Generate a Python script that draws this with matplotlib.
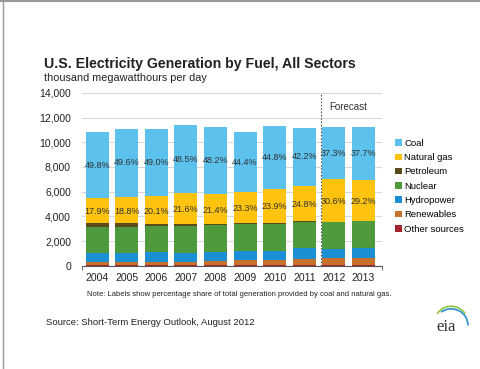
import numpy as np
import matplotlib.pyplot as plt
from matplotlib.lines import Line2D
from matplotlib.patches import Arc

plt.rcParams['font.family'] = ['Liberation Sans', 'DejaVu Sans']

years = ['2004', '2005', '2006', '2007', '2008', '2009', '2010', '2011', '2012', '2013']

# thousand MWh per day
coal = [5.42, 5.54, 5.47, 5.55, 5.46, 4.83, 5.11, 4.76, 4.19, 4.26]
natural_gas = [1.95, 2.10, 2.24, 2.47, 2.42, 2.53, 2.72, 2.80, 3.44, 3.30]
petroleum = [0.33, 0.33, 0.17, 0.18, 0.13, 0.10, 0.10, 0.08, 0.06, 0.06]
nuclear = [2.16, 2.12, 2.15, 2.20, 2.19, 2.18, 2.21, 2.13, 2.15, 2.20]
hydropower = [0.73, 0.74, 0.79, 0.68, 0.70, 0.75, 0.71, 0.87, 0.75, 0.74]
renewables = [0.24, 0.25, 0.26, 0.29, 0.34, 0.39, 0.44, 0.52, 0.58, 0.62]
other = [0.04, 0.04, 0.04, 0.04, 0.04, 0.04, 0.04, 0.04, 0.04, 0.04]

coal_pct = ['49.8%', '49.6%', '49.0%', '48.5%', '48.2%', '44.4%', '44.8%', '42.2%', '37.3%', '37.7%']
gas_pct = ['17.9%', '18.8%', '20.1%', '21.6%', '21.4%', '23.3%', '23.9%', '24.8%', '30.6%', '29.2%']

series = [
    ('Other sources', other, '#a3232b'),
    ('Renewables', renewables, '#c6712c'),
    ('Hydropower', hydropower, '#1b8fd3'),
    ('Nuclear', nuclear, '#4e9a3c'),
    ('Petroleum', petroleum, '#5a4a1c'),
    ('Natural gas', natural_gas, '#fdc30f'),
    ('Coal', coal, '#5cc1ec'),
]

fig = plt.figure(figsize=(4.8, 3.69), dpi=100)
ax = fig.add_axes([0.171, 0.280, 0.625, 0.468])

x = np.arange(len(years))
bottom = np.zeros(len(years))
handles = {}
gas_mid = None
coal_mid = None
for name, vals, color in series:
    vals = np.array(vals) * 1000
    b = ax.bar(x, vals, 0.78, bottom=bottom, color=color, label=name, linewidth=0)
    handles[name] = b
    if name == 'Natural gas':
        gas_mid = bottom + vals / 2
    if name == 'Coal':
        coal_mid = bottom + vals / 2
    bottom = bottom + vals

for i in range(len(years)):
    ax.text(x[i], coal_mid[i], coal_pct[i], ha='center', va='center', fontsize=6.5, color='#333333')
    ax.text(x[i], gas_mid[i] - 100, gas_pct[i], ha='center', va='center', fontsize=6.5, color='#333333')

ax.set_xlim(-0.51, 9.63)
ax.set_ylim(0, 14000)
ax.set_yticks(np.arange(0, 14001, 2000))
ax.set_yticklabels(['{:,}'.format(v) for v in range(0, 14001, 2000)])
ax.set_xticks(x)
ax.set_xticklabels(years)
ax.tick_params(axis='y', length=0, labelsize=7.5, colors='#222222', pad=8)
ax.tick_params(axis='x', length=0, labelsize=7.5, colors='#222222', pad=5)
ax.set_xticks([-0.51, 9.63], minor=True)
ax.tick_params(axis='x', which='minor', length=3, color='#555555')
ax.grid(axis='y', color='#d9d9d9', linewidth=0.8)
ax.set_axisbelow(True)
for s in ['top', 'right', 'left']:
    ax.spines[s].set_visible(False)
ax.spines['bottom'].set_color('#555555')

ax.axvline(7.57, color='#555555', linestyle=(0, (1.5, 1.5)), linewidth=0.8, ymin=0, ymax=1)
ax.text(8.5, 12900, 'Forecast', ha='center', va='center', fontsize=7, color='#333333')

order = ['Coal', 'Natural gas', 'Petroleum', 'Nuclear', 'Hydropower', 'Renewables', 'Other sources']
leg = fig.legend([handles[n] for n in order], order, loc='upper left',
                 bbox_to_anchor=(0.815, 0.634), frameon=False, fontsize=6.8,
                 handlelength=0.7, handleheight=0.7, handletextpad=0.3,
                 labelspacing=0.56, borderaxespad=0)

fig.text(0.092, 0.826, 'U.S. Electricity Generation by Fuel, All Sectors',
         fontsize=10.2, fontweight='bold', color='#222222', va='center')
fig.text(0.092, 0.789, 'thousand megawatthours per day', fontsize=7.8, color='#222222', va='center')
fig.text(0.499, 0.201, 'Note: Labels show percentage share of total generation provided by coal and natural gas.',
         fontsize=5.5, color='#222222', ha='center', va='center')
fig.text(0.096, 0.127, 'Source: Short-Term Energy Outlook, August 2012', fontsize=6.8, color='#222222', va='center')

fig.text(0.93, 0.115, 'eia', fontsize=12, family='Liberation Serif', color='#333333', ha='center', va='center')
fig.add_artist(Arc((0.94, 0.125), 0.07, 0.09, theta1=40, theta2=140, color='#8dc63f', lw=1.2, transform=fig.transFigure))
fig.add_artist(Arc((0.94, 0.118), 0.07, 0.09, theta1=0, theta2=120, color='#2a8fce', lw=1.2, transform=fig.transFigure))

fig.add_artist(Line2D([0, 1], [0.998, 0.998], color='#999999', lw=1.5, transform=fig.transFigure))
fig.add_artist(Line2D([0.007, 0.007], [0, 1], color='#999999', lw=1.0, transform=fig.transFigure))

fig.savefig('out.png', dpi=100)
